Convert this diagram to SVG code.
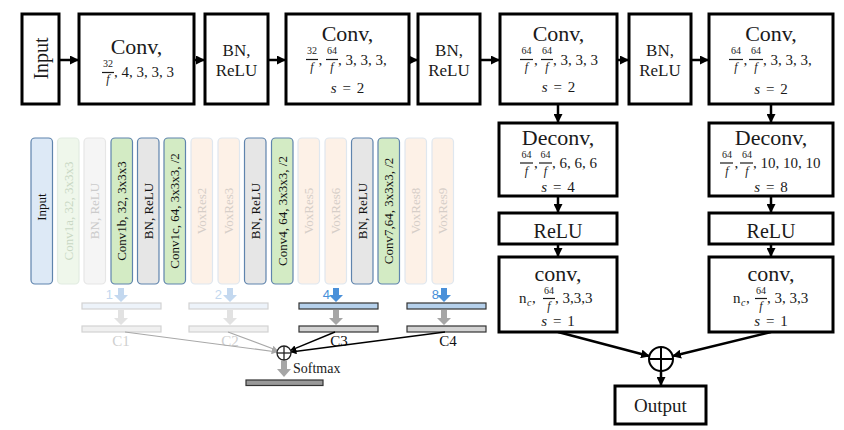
<svg xmlns="http://www.w3.org/2000/svg" width="844" height="430" viewBox="0 0 844 430">
<style>
.box{fill:#fff;stroke:#000;stroke-width:3}
.t{font-family:"Liberation Serif",serif;fill:#1a1a1a}
.big{font-size:22px;text-anchor:middle}
.mid{font-size:17px;text-anchor:middle}
.row{font-size:15px}
.num{font-size:10px;text-anchor:middle}
.den{font-size:12px;font-style:italic;text-anchor:middle}
.bar{stroke:#1a1a1a;stroke-width:1.2}
.conn{stroke:#000;stroke-width:2.5;fill:none}
.col{stroke-width:1.2}
.ct{font-family:"Liberation Serif",serif;font-size:13px;text-anchor:middle}
.act{fill:#111}
.fg{fill:#d3ebc4;stroke:#5f84ad}
.fgr{fill:#e6e6e6;stroke:#5f84ad}
.fin{fill:#dde9f6;stroke:#5f84ad}
.ffg{fill:#eff7eb;stroke:#e2ece2}
.ffgr{fill:#f5f5f5;stroke:#e6e6e6}
.fvox{fill:#fdf1e7;stroke:#dfe7ef}
.tfg{fill:#c9d7c4}
.tfgr{fill:#cbcbcb}
.tvox{fill:#d6cec8}
.lab{font-family:"Liberation Serif",serif;font-size:15px;text-anchor:middle}
.dig{font-family:"Liberation Sans",sans-serif;font-size:13px;text-anchor:end}
.s{word-spacing:2px}
</style>
<defs>
<marker id="ah" markerWidth="9" markerHeight="9" refX="8" refY="4.5" orient="auto" markerUnits="userSpaceOnUse"><path d="M0,0 L9,4.5 L0,9 z" fill="#000"/></marker>
<marker id="as" markerWidth="6" markerHeight="6" refX="5.5" refY="3" orient="auto" markerUnits="userSpaceOnUse"><path d="M0,0 L6,3 L0,6 z" fill="#000"/></marker>
<marker id="asg" markerWidth="6" markerHeight="6" refX="5.5" refY="3" orient="auto" markerUnits="userSpaceOnUse"><path d="M0,0 L6,3 L0,6 z" fill="#a8a8a8"/></marker>
</defs>

<!-- connectors -->
<g id="connectors">
<line class="conn" x1="59" y1="60" x2="78" y2="60" marker-end="url(#ah)"/>
<line class="conn" x1="194" y1="60" x2="204" y2="60" marker-end="url(#ah)"/>
<line class="conn" x1="268" y1="60" x2="285" y2="60" marker-end="url(#ah)"/>
<line class="conn" x1="409" y1="60" x2="417" y2="60" marker-end="url(#ah)"/>
<line class="conn" x1="480" y1="60" x2="499" y2="60" marker-end="url(#ah)"/>
<line class="conn" x1="617" y1="60" x2="628" y2="60" marker-end="url(#ah)"/>
<line class="conn" x1="691" y1="60" x2="708" y2="60" marker-end="url(#ah)"/>
<line class="conn" x1="558" y1="104" x2="558" y2="122" marker-end="url(#ah)"/>
<line class="conn" x1="771" y1="104" x2="771" y2="122" marker-end="url(#ah)"/>
<line class="conn" x1="558" y1="196" x2="558" y2="212" marker-end="url(#ah)"/>
<line class="conn" x1="771" y1="196" x2="771" y2="212" marker-end="url(#ah)"/>
<line class="conn" x1="558" y1="244" x2="558" y2="256" marker-end="url(#ah)"/>
<line class="conn" x1="771" y1="244" x2="771" y2="256" marker-end="url(#ah)"/>
<line class="conn" x1="558" y1="332" x2="649" y2="356" marker-end="url(#ah)"/>
<line class="conn" x1="771" y1="332" x2="673" y2="356" marker-end="url(#ah)"/>
<line class="conn" x1="661" y1="371" x2="661" y2="385" marker-end="url(#ah)"/>
</g>

<!-- top row -->
<g id="input">
<rect class="box" x="22" y="14" width="37" height="90"/>
<text class="t" font-size="20" text-anchor="middle" transform="translate(47.5,58.5) rotate(-90)">Input</text>
</g>
<g id="conv1">
<rect class="box" x="79" y="14" width="115" height="90"/>
<text class="t big" x="136.5" y="54">Conv,</text>
<text class="t num" x="108" y="67">32</text>
<line class="bar" x1="102" y1="72.5" x2="114" y2="72.5"/>
<text class="t den" x="108" y="83">f</text>
<text class="t row" x="114" y="77">, 4, 3, 3, 3</text>
</g>
<g id="bn1">
<rect class="box" x="205" y="14" width="63" height="90"/>
<text class="t mid" x="236.5" y="56">BN,</text>
<text class="t mid" x="236.5" y="76">ReLU</text>
</g>
<g id="conv2">
<rect class="box" x="286" y="14" width="123" height="90"/>
<text class="t big" x="347.5" y="41">Conv,</text>
<text class="t num" x="312" y="54">32</text>
<line class="bar" x1="306" y1="59.5" x2="318" y2="59.5"/>
<text class="t den" x="312" y="71">f</text>
<text class="t row" x="318.5" y="65">,</text>
<text class="t num" x="332" y="54">64</text>
<line class="bar" x1="326" y1="59.5" x2="338" y2="59.5"/>
<text class="t den" x="332" y="71">f</text>
<text class="t row" x="338" y="65">, 3, 3, 3,</text>
<text class="t row s" x="347.5" y="93" text-anchor="middle" font-size="16"><tspan font-style="italic">s</tspan> = 2</text>
</g>
<g id="bn2">
<rect class="box" x="418" y="14" width="62" height="90"/>
<text class="t mid" x="449" y="56">BN,</text>
<text class="t mid" x="449" y="76">ReLU</text>
</g>
<g id="conv3">
<rect class="box" x="500" y="14" width="117" height="90"/>
<text class="t big" x="558.5" y="41">Conv,</text>
<text class="t num" x="526.5" y="54">64</text>
<line class="bar" x1="520" y1="59.5" x2="533" y2="59.5"/>
<text class="t den" x="526.5" y="71">f</text>
<text class="t row" x="534" y="65">,</text>
<text class="t num" x="547" y="54">64</text>
<line class="bar" x1="541" y1="59.5" x2="553" y2="59.5"/>
<text class="t den" x="547" y="71">f</text>
<text class="t row" x="553" y="65">, 3, 3, 3</text>
<text class="t row s" x="558.5" y="92" text-anchor="middle" font-size="16"><tspan font-style="italic">s</tspan> = 2</text>
</g>
<g id="bn3">
<rect class="box" x="629" y="14" width="62" height="90"/>
<text class="t mid" x="660" y="56">BN,</text>
<text class="t mid" x="660" y="76">ReLU</text>
</g>
<g id="conv4">
<rect class="box" x="709" y="14" width="124" height="90"/>
<text class="t big" x="771" y="41">Conv,</text>
<text class="t num" x="736" y="54">64</text>
<line class="bar" x1="729" y1="59.5" x2="743" y2="59.5"/>
<text class="t den" x="736" y="71">f</text>
<text class="t row" x="743.5" y="65">,</text>
<text class="t num" x="756" y="54">64</text>
<line class="bar" x1="749" y1="59.5" x2="763" y2="59.5"/>
<text class="t den" x="756" y="71">f</text>
<text class="t row" x="763" y="65">, 3, 3, 3,</text>
<text class="t row s" x="771" y="94" text-anchor="middle" font-size="16"><tspan font-style="italic">s</tspan> = 2</text>
</g>

<!-- deconv -->
<g id="deconv1">
<rect class="box" x="499" y="123" width="118" height="73"/>
<text class="t big" x="558" y="145">Deconv,</text>
<text class="t num" x="526.5" y="158">64</text>
<line class="bar" x1="520" y1="163" x2="533" y2="163"/>
<text class="t den" x="526.5" y="175">f</text>
<text class="t row" x="534" y="168">,</text>
<text class="t num" x="545.5" y="158">64</text>
<line class="bar" x1="539" y1="163" x2="552" y2="163"/>
<text class="t den" x="545.5" y="175">f</text>
<text class="t row" x="552" y="168">, 6, 6, 6</text>
<text class="t row s" x="558" y="192" text-anchor="middle" font-size="16"><tspan font-style="italic">s</tspan> = 4</text>
</g>
<g id="deconv2">
<rect class="box" x="709" y="123" width="124" height="73"/>
<text class="t big" x="771" y="145">Deconv,</text>
<text class="t num" x="727" y="158">64</text>
<line class="bar" x1="720" y1="163" x2="733" y2="163"/>
<text class="t den" x="727" y="175">f</text>
<text class="t row" x="734.5" y="168">,</text>
<text class="t num" x="747" y="158">64</text>
<line class="bar" x1="740" y1="163" x2="753" y2="163"/>
<text class="t den" x="747" y="175">f</text>
<text class="t row" x="753" y="168">, 10, 10, 10</text>
<text class="t row s" x="771" y="192" text-anchor="middle" font-size="16"><tspan font-style="italic">s</tspan> = 8</text>
</g>
<g id="relu1">
<rect class="box" x="499" y="213" width="118" height="31"/>
<text class="t" font-size="20" text-anchor="middle" x="558" y="238">ReLU</text>
</g>
<g id="relu2">
<rect class="box" x="709" y="213" width="124" height="31"/>
<text class="t" font-size="20" text-anchor="middle" x="771" y="238">ReLU</text>
</g>
<g id="convout1">
<rect class="box" x="499" y="257" width="118" height="75"/>
<text class="t big" x="558" y="281">conv,</text>
<text class="t row" x="519" y="303">n</text>
<text class="t" font-size="10" font-style="italic" x="527" y="306">c</text>
<text class="t row" x="532" y="303">,</text>
<text class="t num" x="549" y="294">64</text>
<line class="bar" x1="543" y1="298.5" x2="555" y2="298.5"/>
<text class="t den" x="549" y="310">f</text>
<text class="t row" x="555" y="303">, 3,3,3</text>
<text class="t row s" x="558" y="326" text-anchor="middle" font-size="16"><tspan font-style="italic">s</tspan> = 1</text>
</g>
<g id="convout2">
<rect class="box" x="709" y="257" width="124" height="75"/>
<text class="t big" x="771" y="281">conv,</text>
<text class="t row" x="733" y="303">n</text>
<text class="t" font-size="10" font-style="italic" x="741" y="306">c</text>
<text class="t row" x="746" y="303">,</text>
<text class="t num" x="761" y="294">64</text>
<line class="bar" x1="755" y1="298.5" x2="767" y2="298.5"/>
<text class="t den" x="761" y="310">f</text>
<text class="t row" x="767" y="303">, 3, 3,3</text>
<text class="t row s" x="771" y="326" text-anchor="middle" font-size="16"><tspan font-style="italic">s</tspan> = 1</text>
</g>
<g id="sum">
<circle cx="661" cy="359" r="12" fill="#fff" stroke="#000" stroke-width="2"/>
<line x1="649" y1="359" x2="673" y2="359" stroke="#000" stroke-width="2"/>
<line x1="661" y1="347" x2="661" y2="371" stroke="#000" stroke-width="2"/>
</g>
<g id="output">
<rect class="box" x="615" y="386" width="91" height="38"/>
<text class="t" font-size="19" text-anchor="middle" x="660.5" y="412">Output</text>
</g>

<!-- left mini diagram: columns -->
<g id="columns">
<g id="c0"><rect class="col fin" x="31" y="138" width="21.5" height="146" rx="4"/><text class="ct act" transform="translate(46.2,207) rotate(-90)">Input</text></g>
<g id="c1"><rect class="col ffg" x="57.5" y="138" width="21.5" height="146" rx="4"/><text class="ct tfg" transform="translate(72.7,211) rotate(-90)">Conv1a, 32, 3x3x3</text></g>
<g id="c2"><rect class="col ffgr" x="84" y="138" width="21.5" height="146" rx="4"/><text class="ct tfgr" transform="translate(99.2,211) rotate(-90)">BN, ReLU</text></g>
<g id="c3"><rect class="col fg" x="111" y="138" width="21.5" height="146" rx="4"/><text class="ct act" transform="translate(126.2,211) rotate(-90)">Conv1b, 32, 3x3x3</text></g>
<g id="c4"><rect class="col fgr" x="137.5" y="138" width="21.5" height="146" rx="4"/><text class="ct act" transform="translate(152.7,211) rotate(-90)">BN, ReLU</text></g>
<g id="c5"><rect class="col fg" x="164" y="138" width="21.5" height="146" rx="4"/><text class="ct act" transform="translate(179.2,211) rotate(-90)">Conv1c, 64, 3x3x3, /2</text></g>
<g id="c6"><rect class="col fvox" x="191" y="138" width="21.5" height="146" rx="4"/><text class="ct tvox" transform="translate(206.2,211) rotate(-90)">VoxRes2</text></g>
<g id="c7"><rect class="col fvox" x="218" y="138" width="21.5" height="146" rx="4"/><text class="ct tvox" transform="translate(233.2,211) rotate(-90)">VoxRes3</text></g>
<g id="c8"><rect class="col fgr" x="244.5" y="138" width="21.5" height="146" rx="4"/><text class="ct act" transform="translate(259.7,211) rotate(-90)">BN, ReLU</text></g>
<g id="c9"><rect class="col fg" x="271.5" y="138" width="21.5" height="146" rx="4"/><text class="ct act" transform="translate(286.7,211) rotate(-90)">Conv4, 64, 3x3x3, /2</text></g>
<g id="c10"><rect class="col fvox" x="298" y="138" width="21.5" height="146" rx="4"/><text class="ct tvox" transform="translate(313.2,211) rotate(-90)">VoxRes5</text></g>
<g id="c11"><rect class="col fvox" x="325" y="138" width="21.5" height="146" rx="4"/><text class="ct tvox" transform="translate(340.2,211) rotate(-90)">VoxRes6</text></g>
<g id="c12"><rect class="col fgr" x="351.5" y="138" width="21.5" height="146" rx="4"/><text class="ct act" transform="translate(366.7,211) rotate(-90)">BN, ReLU</text></g>
<g id="c13"><rect class="col fg" x="378" y="138" width="21.5" height="146" rx="4"/><text class="ct act" transform="translate(393.2,211) rotate(-90)">Conv7,64, 3x3x3, /2</text></g>
<g id="c14"><rect class="col fvox" x="405" y="138" width="21.5" height="146" rx="4"/><text class="ct tvox" transform="translate(420.2,211) rotate(-90)">VoxRes8</text></g>
<g id="c15"><rect class="col fvox" x="432" y="138" width="21.5" height="146" rx="4"/><text class="ct tvox" transform="translate(447.2,211) rotate(-90)">VoxRes9</text></g>
</g>

<!-- branches -->
<g id="branch1">
<text class="dig" x="113" y="299" fill="#c3d8ef">1</text>
<polygon points="118,288 124,288 124,295 128,295 121,302 114,295 118,295" fill="#c3d8ef"/>
<rect x="82" y="303" width="79" height="6" fill="#edf3fa" stroke="#d2d2d2" stroke-width="1.2"/>
<polygon points="118,310 124,310 124,318 128,318 121,325 114,318 118,318" fill="#e2e2e2"/>
<rect x="82" y="326" width="79" height="6" fill="#f0f0f0" stroke="#d2d2d2" stroke-width="1.2"/>
<text class="lab" x="121" y="346" fill="#d0d0d0">C1</text>
</g>
<g id="branch2">
<text class="dig" x="222" y="299" fill="#c3d8ef">2</text>
<polygon points="227,288 233,288 233,295 237,295 230,302 223,295 227,295" fill="#c3d8ef"/>
<rect x="189" y="303" width="79" height="6" fill="#edf3fa" stroke="#d2d2d2" stroke-width="1.2"/>
<polygon points="227,310 233,310 233,318 237,318 230,325 223,318 227,318" fill="#e2e2e2"/>
<rect x="189" y="326" width="79" height="6" fill="#f0f0f0" stroke="#d2d2d2" stroke-width="1.2"/>
<text class="lab" x="230" y="346" fill="#d0d0d0">C2</text>
</g>
<g id="branch3">
<text class="dig" x="330" y="299" fill="#4a90d9">4</text>
<polygon points="333,288 339,288 339,295 343,295 336,302 329,295 333,295" fill="#4a90d9"/>
<rect x="299" y="303" width="79" height="6" fill="#b6d1ec" stroke="#333" stroke-width="1.2"/>
<polygon points="333,310 339,310 339,318 343,318 336,325 329,318 333,318" fill="#a6a6a6"/>
<rect x="299" y="326" width="79" height="6" fill="#d3d3d3" stroke="#333" stroke-width="1.2"/>
<text class="lab" x="339" y="346" fill="#111">C3</text>
</g>
<g id="branch4">
<text class="dig" x="439" y="299" fill="#4a90d9">8</text>
<polygon points="441,288 447,288 447,295 451,295 444,302 437,295 441,295" fill="#4a90d9"/>
<rect x="407" y="303" width="79" height="6" fill="#b6d1ec" stroke="#333" stroke-width="1.2"/>
<polygon points="441,310 447,310 447,318 451,318 444,325 437,318 441,318" fill="#a6a6a6"/>
<rect x="407" y="326" width="79" height="6" fill="#d3d3d3" stroke="#333" stroke-width="1.2"/>
<text class="lab" x="448" y="346" fill="#111">C4</text>
</g>
<g id="mini-connectors">
<line x1="125" y1="332" x2="277" y2="352" stroke="#a8a8a8" stroke-width="1.2" marker-end="url(#asg)"/>
<line x1="228" y1="332" x2="277.5" y2="350.5" stroke="#a8a8a8" stroke-width="1.2" marker-end="url(#asg)"/>
<line x1="335" y1="332" x2="290.5" y2="350.3" stroke="#000" stroke-width="1.4" marker-end="url(#as)"/>
<line x1="445" y1="332" x2="291" y2="352" stroke="#000" stroke-width="1.4" marker-end="url(#as)"/>
</g>
<g id="mini-sum">
<circle cx="284" cy="353" r="7" fill="#fff" stroke="#222" stroke-width="1.3"/>
<line x1="277" y1="353" x2="291" y2="353" stroke="#222" stroke-width="1.3"/>
<line x1="284" y1="346" x2="284" y2="360" stroke="#222" stroke-width="1.3"/>
</g>
<g id="softmax">
<polygon points="281,361 287,361 287,369 291,369 284,377 277,369 281,369" fill="#a6a6a6"/>
<text class="t" font-size="14" x="293" y="373">Softmax</text>
<rect x="246" y="380" width="77" height="5.5" fill="#999" stroke="#333" stroke-width="1.2"/>
</g>
</svg>
